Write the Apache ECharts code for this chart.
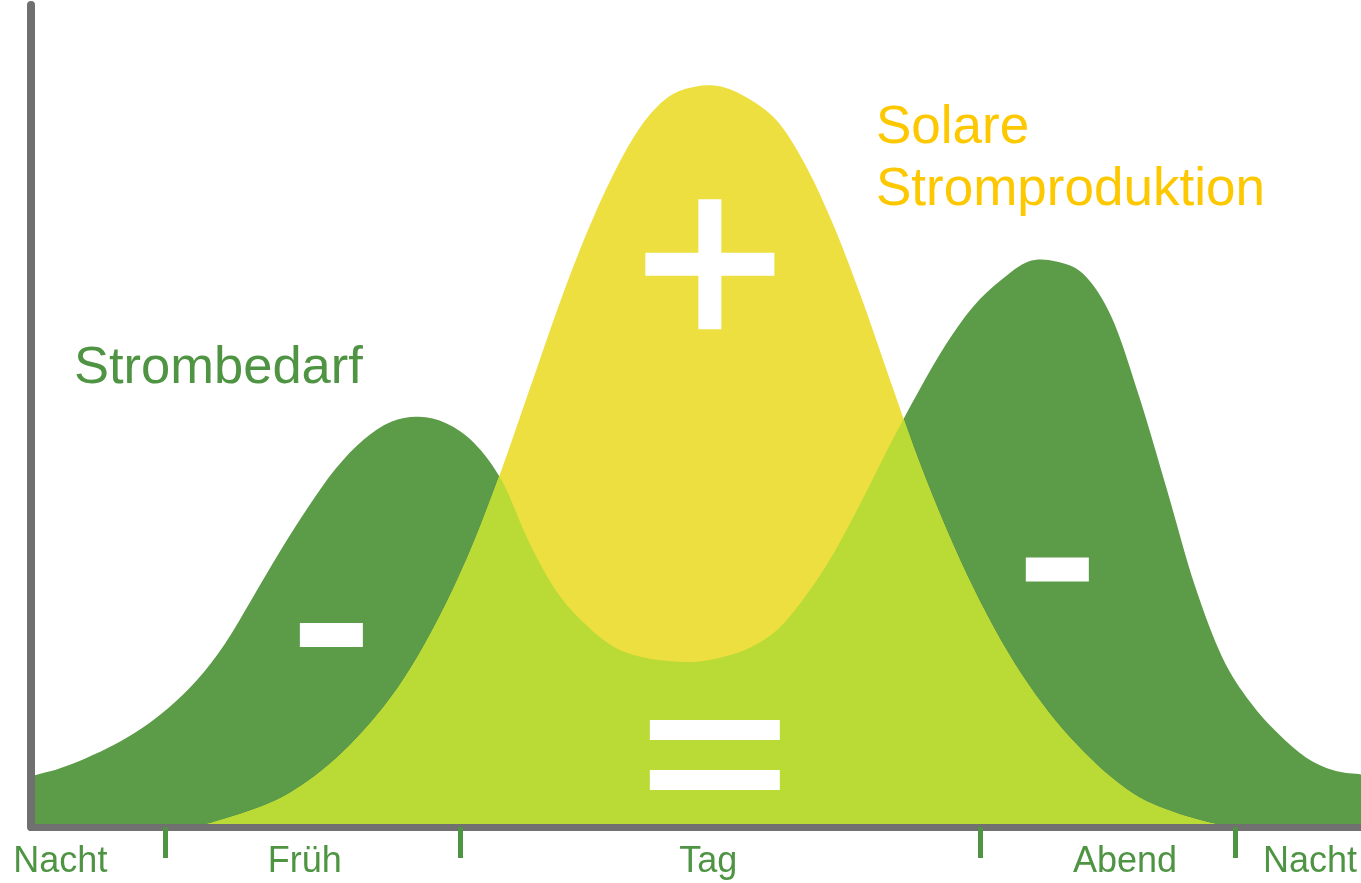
<!DOCTYPE html>
<html>
<head>
<meta charset="utf-8">
<title>Strombedarf und Solare Stromproduktion</title>
<script src="https://cdn.jsdelivr.net/npm/echarts@6/dist/echarts.min.js"></script>
<style>
  html, body { margin: 0; padding: 0; background: #ffffff; }
  #chart { width: 1361px; height: 883px; }
</style>
</head>
<body>
<div id="chart"></div>
<script>
// Time of day (hours) at which both curves are sampled
const hours = [0, 0.5, 1, 1.5, 2, 2.5, 3, 3.5, 4, 4.5, 5, 5.5, 6, 6.5, 7, 7.5, 8, 8.5,
  9, 9.5, 10, 10.5, 11, 11.5, 12, 12.5, 13, 13.5, 14, 14.5, 15, 15.5,
  16, 16.5, 17, 17.5, 18, 18.5, 19, 19.5, 20, 20.5, 21, 21.5, 22, 22.5, 23, 23.5, 24];

// Electricity demand over the day (relative units)
const demand = [6.2, 7.1, 8.4, 10.0, 12.0, 14.6, 17.9, 22.3, 27.9, 33.6, 38.9, 43.6, 47.1, 49.3, 49.9, 49.1, 46.7, 42.1,
  34.5, 28.5, 24.7, 22.0, 20.7, 20.2, 20.1, 20.7, 21.9, 24.2, 28.3, 33.5, 39.8, 46.5,
  52.8, 58.6, 63.3, 66.5, 68.8, 68.8, 67.2, 62.0, 52.3, 41.0, 29.4, 20.6, 15.2, 11.4, 8.5, 6.9, 6.4];

// Solar power production over the day (relative units)
const solar = [0, 0, 0, 0, 0, 0, 0.1, 1.0, 2.1, 3.5, 5.6, 8.3, 11.7, 15.8, 21.0, 27.3, 34.8, 43.6,
  53.3, 63.0, 71.8, 79.3, 85.2, 88.8, 90.1, 90.0, 88.4, 85.6, 80.2, 72.9, 64.1, 54.4,
  44.9, 36.5, 29.1, 22.7, 17.3, 12.8, 9.1, 6.0, 3.6, 2.1, 1.0, 0.2, 0, 0, 0, 0, 0];

// Boundaries between the periods of the day and the period names
const periodBounds = [2.43, 7.75, 17.13, 21.73];
const periodCenters = [0.53, 4.94, 12.22, 19.74, 23.08];
const periodNames = ['Nacht', 'Früh', 'Tag', 'Abend', 'Nacht'];

// Sign annotations: surplus (+), deficit (-), self-consumption (=)
const signKinds = ['plus', 'minus', 'minus', 'equals'];
const signAt = [[12.25, 68.45], [5.42, 23.36], [18.52, 31.33], [12.34, 8.76]];

const FONT = 'Liberation Sans, Arial, Helvetica, sans-serif';
const GREEN = '#5c9c48';
const YELLOW = '#eedf41';
const LIME = '#badb36';
const AXIS_GRAY = '#707070';
const TICK_GREEN = '#4e9443';
const SOLAR_TEXT = '#fdc800';

// Closed area path under a smooth (Catmull-Rom) curve through pixel points
function areaPath(pts, baseY) {
  const n = pts.length;
  const clampY = (y) => Math.min(y, baseY);
  let d = 'M' + pts[0][0] + ' ' + baseY + ' L' + pts[0][0] + ' ' + pts[0][1];
  for (let i = 0; i < n - 1; i++) {
    const p0 = pts[Math.max(i - 1, 0)];
    const p1 = pts[i];
    const p2 = pts[i + 1];
    const p3 = pts[Math.min(i + 2, n - 1)];
    const c1x = p1[0] + (p2[0] - p0[0]) / 6;
    const c1y = clampY(p1[1] + (p2[1] - p0[1]) / 6);
    const c2x = p2[0] - (p3[0] - p1[0]) / 6;
    const c2y = clampY(p2[1] - (p3[1] - p1[1]) / 6);
    d += ' C' + c1x + ' ' + c1y + ' ' + c2x + ' ' + c2y + ' ' + p2[0] + ' ' + p2[1];
  }
  d += ' L' + pts[n - 1][0] + ' ' + baseY + ' Z';
  return d;
}

// Both areas are drawn in one pass; the overlap is the solar area clipped by the demand area
function renderAreas(params, api) {
  if (params.dataIndex !== 0) return null;
  const n = params.dataInsideLength !== undefined ? params.dataInsideLength : hours.length;
  const demandPts = [];
  const solarPts = [];
  for (let i = 0; i < n; i++) {
    const x = api.value(0, i);
    demandPts.push(api.coord([x, api.value(1, i)]));
    solarPts.push(api.coord([x, api.value(2, i)]));
  }
  const baseY = api.coord([0, 0])[1];
  const demandD = areaPath(demandPts, baseY);
  const solarD = areaPath(solarPts, baseY);
  return {
    type: 'group',
    children: [
      { type: 'path', shape: { pathData: demandD }, style: { fill: GREEN } },
      { type: 'path', shape: { pathData: solarD }, style: { fill: YELLOW } },
      { type: 'path', shape: { pathData: solarD }, style: { fill: LIME },
        clipPath: { type: 'path', shape: { pathData: demandD } } }
    ]
  };
}

// Build the white sign shapes as rectangle symbols
const signData = [];
signKinds.forEach((kind, i) => {
  const [x, y] = signAt[i];
  if (kind === 'plus') {
    signData.push({ value: [x, y], symbolSize: [129, 23] });
    signData.push({ value: [x, y], symbolSize: [23, 130] });
  } else if (kind === 'minus') {
    signData.push({ value: [x, y], symbolSize: [63, 24] });
  } else {
    signData.push({ value: [x, y], symbolSize: [130, 20], symbolOffset: [0, -25] });
    signData.push({ value: [x, y], symbolSize: [130, 20], symbolOffset: [0, 25] });
  }
});

const chart = echarts.init(document.getElementById('chart'), null, { renderer: 'canvas' });
chart.setOption({
  animation: false,
  backgroundColor: '#ffffff',
  grid: { left: 31, right: 0, top: 5, bottom: 56, containLabel: false, outerBoundsMode: 'none' },
  xAxis: {
    type: 'value', min: 0, max: 24, z: 10,
    axisLine: { show: true, lineStyle: { color: AXIS_GRAY, width: 7 } },
    axisTick: { show: true, inside: false, length: 31, customValues: periodBounds,
      lineStyle: { color: TICK_GREEN, width: 5 } },
    axisLabel: { show: true, customValues: periodCenters, margin: 17,
      color: TICK_GREEN, fontFamily: FONT, fontSize: 36,
      formatter: (v) => {
        let best = 0;
        periodCenters.forEach((c, i) => { if (Math.abs(c - v) < Math.abs(periodCenters[best] - v)) best = i; });
        return periodNames[best];
      } },
    splitLine: { show: false }
  },
  yAxis: {
    type: 'value', min: 0, max: 100, z: 10,
    axisLine: { show: true, lineStyle: { color: AXIS_GRAY, width: 8 } },
    axisTick: { show: false }, axisLabel: { show: false }, splitLine: { show: false }
  },
  series: [
    {
      name: 'Strombedarf / Solare Stromproduktion',
      type: 'custom',
      renderItem: renderAreas,
      data: hours.map((h, i) => [h, demand[i], solar[i]]),
      dimensions: ['Stunde', 'Strombedarf', 'Solar'],
      encode: { x: 0, y: [1, 2] },
      clip: true, silent: true, z: 2
    },
    {
      type: 'scatter', symbol: 'rect', data: signData, z: 6, silent: true,
      itemStyle: { color: '#ffffff', opacity: 1 }
    }
  ],
  graphic: [
    { type: 'text', x: 74, y: 368.7, z: 20, silent: true,
      style: { text: 'Strombedarf', fill: TICK_GREEN, font: '52.5px ' + FONT, verticalAlign: 'middle', align: 'left' } },
    { type: 'text', x: 876, y: 128.3, z: 20, silent: true,
      style: { text: 'Solare', fill: SOLAR_TEXT, font: '53px ' + FONT, verticalAlign: 'middle', align: 'left' } },
    { type: 'text', x: 876, y: 190, z: 20, silent: true,
      style: { text: 'Stromproduktion', fill: SOLAR_TEXT, font: '53px ' + FONT, verticalAlign: 'middle', align: 'left' } }
  ]
});
</script>
</body>
</html>
